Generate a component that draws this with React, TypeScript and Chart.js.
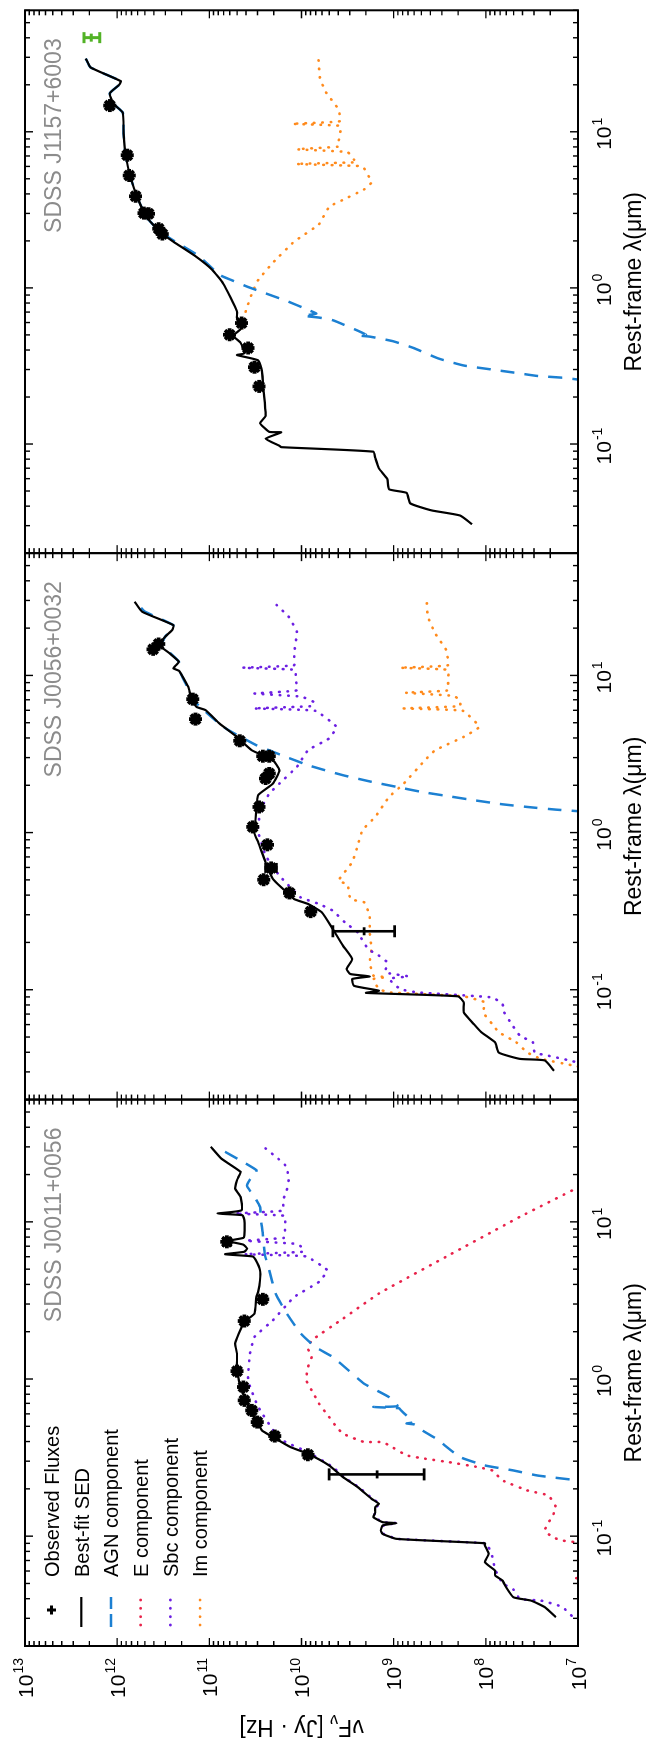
import React, { useEffect, useRef } from "react";
import { Chart, registerables } from "chart.js";

Chart.register(...registerables);

// ---------------- data: [log10 λ (μm), log10 νFν (Jy·Hz)] ----------------
const P1_SED = [[1.478,10.985],[1.403,10.87],[1.318,10.66],[1.29,10.68],[1.265,10.70],[1.212,10.72],[1.159,10.66],[1.074,10.65],[1.053,10.91],[1.042,10.64],[1.011,10.62],[0.915,10.62],[0.898,10.63],[0.878,10.80],[0.855,10.63],[0.83,10.59],[0.81,10.62],[0.794,10.83],[0.78,10.53],[0.76,10.50],[0.692,10.45],[0.628,10.45],[0.554,10.47],[0.522,10.49],[0.416,10.51],[0.363,10.62],[0.289,10.68],[0.225,10.72],[0.161,10.70],[0.076,10.70],[-0.009,10.68],[-0.072,10.65],[-0.157,10.58],[-0.242,10.51],[-0.327,10.43],[-0.369,10.31],[-0.433,10.12],[-0.476,9.93],[-0.55,9.70],[-0.624,9.55],[-0.688,9.39],[-0.762,9.24],[-0.794,9.16],[-0.815,9.20],[-0.85,9.20],[-0.879,9.22],[-0.911,9.12],[-0.917,8.97],[-0.932,9.12],[-0.964,9.14],[-0.985,9.12],[-1.017,8.97],[-1.045,8.01],[-1.059,8.01],[-1.113,7.97],[-1.166,8.01],[-1.219,7.90],[-1.25,7.90],[-1.282,7.82],[-1.325,7.78],[-1.389,7.70],[-1.41,7.51],[-1.452,7.36],[-1.516,7.24]];
const P1_AGN = [[1.446,10.83],[1.40,10.69],[1.329,10.49],[1.30,10.50],[1.276,10.55],[1.25,10.58],[1.227,10.59],[1.19,10.55],[1.159,10.51],[1.096,10.45],[1.011,10.44],[0.926,10.42],[0.798,10.40],[0.692,10.35],[0.544,10.28],[0.416,10.16],[0.289,10.007],[0.204,9.85],[0.14,9.66],[0.055,9.49],[-0.03,9.32],[-0.115,9.05],[-0.172,8.96],[-0.178,9.22],[-0.186,8.94],[-0.2,8.92],[-0.275,8.79],[-0.283,8.86],[-0.29,8.77],[-0.33,8.68],[-0.39,8.51],[-0.43,8.43],[-0.497,8.28],[-0.55,8.01],[-0.582,7.70],[-0.614,7.44],[-0.645,7.0],[-0.66,6.8]];
const P1_E = [[1.30,6.75],[1.219,7.0],[1.032,7.63],[0.788,8.40],[0.544,9.16],[0.384,9.55],[0.246,9.89],[0.193,9.93],[0.14,9.89],[0.076,9.93],[-0.008,9.95],[-0.072,9.89],[-0.157,9.81],[-0.242,9.70],[-0.306,9.62],[-0.348,9.55],[-0.385,9.40],[-0.401,9.32],[-0.401,9.12],[-0.422,9.05],[-0.486,8.86],[-0.507,8.66],[-0.529,8.40],[-0.56,8.09],[-0.582,7.93],[-0.645,7.82],[-0.709,7.55],[-0.741,7.32],[-0.815,7.24],[-0.879,7.28],[-0.92,7.33],[-0.964,7.36],[-1.006,7.28],[-1.028,7.17],[-1.04,7.0],[-1.06,6.8],[-1.24,6.8],[-1.265,7.03],[-1.29,6.8]];
const P1_SBC = [[1.467,10.39],[1.40,10.25],[1.35,10.16],[1.265,10.14],[1.20,10.16],[1.138,10.20],[1.072,10.20],[1.053,10.72],[1.038,10.18],[0.97,10.18],[0.915,10.18],[0.898,10.19],[0.88,10.60],[0.86,10.05],[0.84,10.0],[0.81,9.98],[0.794,10.62],[0.78,9.95],[0.692,9.72],[0.618,9.81],[0.522,10.08],[0.374,10.31],[0.268,10.51],[0.161,10.56],[0.013,10.58],[-0.03,10.57],[-0.178,10.47],[-0.38,10.24],[-0.465,9.93],[-0.56,9.66],[-0.624,9.54],[-0.688,9.38],[-0.762,9.23],[-0.794,9.15],[-0.815,9.19],[-0.879,9.21],[-0.911,9.11],[-0.917,8.96],[-0.932,9.11],[-0.985,9.11],[-1.017,8.96],[-1.045,8.00],[-1.07,7.97],[-1.13,7.93],[-1.21,7.90],[-1.30,7.82],[-1.34,7.70],[-1.40,7.63],[-1.41,7.40],[-1.45,7.17],[-1.516,7.05],[-1.55,6.9]];
const P1_OBS = [[0.873,10.81],[0.507,10.42],[0.369,10.62],[0.05,10.70],[-0.051,10.63],[-0.136,10.62],[-0.2,10.54],[-0.274,10.48],[-0.363,10.29],[-0.482,9.93]];
const P1_BARS = [[0.873,10.81,10.77,10.85]];
const P1_CROSS = [[-0.607,9.18,8.67,9.70]];

const P2_SED = [[1.469,11.81],[1.406,11.73],[1.32,11.39],[1.29,11.40],[1.246,11.48],[1.193,11.54],[1.14,11.43],[1.087,11.33],[1.06,11.37],[1.045,11.39],[1.03,11.33],[1.013,11.31],[0.928,11.23],[0.864,11.20],[0.80,11.14],[0.779,11.04],[0.694,10.89],[0.609,10.70],[0.524,10.54],[0.461,10.31],[0.397,10.24],[0.312,10.31],[0.238,10.47],[0.142,10.49],[-0.006,10.51],[-0.062,10.47],[-0.189,10.39],[-0.295,10.31],[-0.359,10.20],[-0.423,10.08],[-0.454,9.93],[-0.507,9.78],[-0.614,9.66],[-0.72,9.55],[-0.805,9.45],[-0.868,9.51],[-0.90,9.47],[-0.915,9.26],[-0.932,9.45],[-0.975,9.43],[-1.006,9.16],[-1.02,9.30],[-1.042,8.30],[-1.08,8.24],[-1.144,8.24],[-1.219,8.13],[-1.27,8.05],[-1.335,7.90],[-1.40,7.86],[-1.44,7.63],[-1.45,7.36],[-1.516,7.26]];
const P2_AGN = [[1.43,11.74],[1.406,11.70],[1.32,11.39],[1.29,11.41],[1.246,11.48],[1.193,11.52],[1.14,11.42],[1.087,11.33],[1.013,11.31],[0.928,11.24],[0.864,11.21],[0.79,11.08],[0.673,10.85],[0.609,10.66],[0.556,10.49],[0.514,10.31],[0.429,9.93],[0.365,9.55],[0.323,9.24],[0.291,8.97],[0.259,8.70],[0.231,8.40],[0.206,8.13],[0.18,7.82],[0.163,7.55],[0.146,7.24],[0.136,7.0],[0.12,6.8]];
const P2_SBC = [[1.448,10.27],[1.374,10.14],[1.278,10.05],[1.14,10.08],[1.065,10.08],[1.049,10.64],[1.035,10.07],[0.97,10.06],[0.905,10.05],[0.885,10.51],[0.865,10.0],[0.832,9.87],[0.805,9.88],[0.79,10.52],[0.775,9.85],[0.673,9.62],[0.599,9.70],[0.524,9.93],[0.418,10.05],[0.312,10.24],[0.248,10.35],[0.163,10.43],[0.057,10.47],[0.002,10.47],[-0.147,10.39],[-0.274,10.24],[-0.412,10.01],[-0.454,9.81],[-0.497,9.66],[-0.571,9.53],[-0.635,9.39],[-0.741,9.28],[-0.783,9.16],[-0.826,9.07],[-0.89,9.09],[-0.915,8.84],[-0.93,9.05],[-0.996,8.93],[-1.017,8.74],[-1.049,7.93],[-1.09,7.82],[-1.144,7.80],[-1.219,7.72],[-1.293,7.63],[-1.335,7.49],[-1.40,7.47],[-1.42,7.32],[-1.45,7.09],[-1.48,6.9]];
const P2_IM = [[1.459,8.64],[1.374,8.63],[1.268,8.55],[1.161,8.43],[1.065,8.41],[1.049,8.93],[1.035,8.41],[0.96,8.41],[0.905,8.41],[0.89,8.87],[0.87,8.35],[0.843,8.28],[0.805,8.28],[0.79,8.89],[0.775,8.25],[0.673,8.07],[0.609,8.24],[0.524,8.55],[0.461,8.66],[0.312,8.89],[0.227,9.05],[0.10,9.20],[0.015,9.34],[-0.083,9.39],[-0.189,9.45],[-0.306,9.60],[-0.33,9.50],[-0.423,9.47],[-0.444,9.32],[-0.529,9.26],[-0.635,9.26],[-0.741,9.24],[-0.826,9.26],[-0.91,9.22],[-0.92,9.08],[-0.932,9.22],[-0.996,9.16],[-1.017,9.05],[-1.042,8.24],[-1.08,8.01],[-1.144,8.03],[-1.219,7.93],[-1.27,7.86],[-1.335,7.67],[-1.40,7.55],[-1.44,7.40],[-1.48,7.07],[-1.50,6.9]];
const P2_OBS = [[1.166,11.61],[1.20,11.55],[0.849,11.18],[0.722,11.15],[0.584,10.67],[0.486,10.42],[0.486,10.35],[0.376,10.35],[0.344,10.39],[0.163,10.46],[0.036,10.53],[-0.078,10.37],[-0.225,10.33],[-0.30,10.41],[-0.384,10.13],[-0.503,9.90]];
const P2_BARS = [[-0.225,10.33,10.27,10.39]];
const P2_CROSS = [[-0.628,9.32,8.99,9.66]];

const P3_SED = [[1.469,12.34],[1.413,12.29],[1.324,11.96],[1.30,11.98],[1.246,12.08],[1.179,12.04],[1.123,11.94],[0.989,11.93],[0.855,11.91],[0.698,11.85],[0.564,11.77],[0.453,11.68],[0.363,11.54],[0.296,11.39],[0.207,11.16],[0.117,10.97],[0.028,10.85],[-0.061,10.77],[-0.151,10.70],[-0.196,10.70],[-0.23,10.66],[-0.263,10.66],[-0.307,10.74],[-0.352,10.66],[-0.419,10.62],[-0.43,10.70],[-0.464,10.47],[-0.531,10.43],[-0.665,10.41],[-0.821,10.39],[-0.866,10.45],[-0.922,10.35],[-0.925,10.22],[-0.966,10.39],[-1.011,10.24],[-1.02,10.22],[-1.049,9.22],[-1.089,9.20],[-1.156,9.16],[-1.223,9.07],[-1.29,9.05],[-1.313,8.86],[-1.38,8.82],[-1.425,8.59],[-1.458,8.28],[-1.514,8.15]];
const P3_AGN = [[1.469,12.34],[1.413,12.29],[1.324,11.96],[1.30,11.98],[1.246,12.08],[1.179,12.04],[1.123,11.94],[0.989,11.93],[0.855,11.91],[0.698,11.85],[0.564,11.77],[0.453,11.68],[0.363,11.54],[0.30,11.38],[0.207,11.12],[0.084,10.89],[0.05,10.76],[0.006,10.58],[-0.084,10.16],[-0.14,9.93],[-0.165,9.84],[-0.178,9.98],[-0.19,9.81],[-0.207,9.66],[-0.274,9.39],[-0.30,9.30],[-0.305,9.38],[-0.312,9.26],[-0.341,9.01],[-0.386,8.78],[-0.453,8.51],[-0.497,8.24],[-0.52,7.97],[-0.542,7.70],[-0.564,7.44],[-0.575,7.17],[-0.587,7.0],[-0.60,6.8]];
const P3_IM = [[1.458,9.815],[1.346,9.80],[1.257,9.74],[1.145,9.60],[1.068,9.58],[1.051,10.10],[1.038,9.58],[0.989,9.58],[0.933,9.60],[0.905,9.60],[0.888,10.05],[0.87,9.50],[0.821,9.43],[0.805,9.40],[0.794,10.06],[0.78,9.35],[0.765,9.32],[0.676,9.24],[0.631,9.32],[0.564,9.55],[0.52,9.70],[0.408,9.81],[0.296,10.08],[0.162,10.31],[0.05,10.47],[-0.039,10.54],[-0.14,10.60],[-0.229,10.64],[-0.26,10.65]];
const P3_OBS = [[1.168,12.08],[0.85,11.89],[0.72,11.87],[0.587,11.80],[0.479,11.71],[0.475,11.66],[0.379,11.55],[0.345,11.51],[-0.225,10.65],[-0.30,10.78],[-0.385,10.58],[-0.508,10.51],[-0.631,10.46]];
const P3_EXTRA = [[1.603,12.28,12.19,12.36]];

const PANEL_NAMES = ["SDSS J0011+0056", "SDSS J0056+0032", "SDSS J1157+6003"];
const LEGEND_LABELS = ["Observed Fluxes", "Best-fit SED", "AGN component", "E component", "Sbc component", "Im component"];
const WAVE_TICK_VALUES = [0.1, 1, 10];
const WAVE_TICK_EXPONENTS = ["-1", "0", "1"];
const FLUX_TICK_VALUES = [1e13, 1e12, 1e11, 1e10, 1e9, 1e8, 1e7];
const FLUX_TICK_EXPONENTS = ["13", "12", "11", "10", "9", "8", "7"];
const X_TITLE = "Rest-frame λ(μm)";

// ---------------- layout / style ----------------
const FIG_W = 1742;
const FIG_H = 646;
const PANEL_X0 = 96;
const PANEL_W = 546.43;
const PLOT_TOP = 25;
const PLOT_BOTTOM = 578;
const LAM_MIN = 0.02, LAM_MAX = 60, FLUX_MIN = 1e7, FLUX_MAX = 1e13;
const FONT = '"Liberation Sans", Arial, Helvetica, sans-serif';
const C_AGN = "#1c80d2";
const C_E = "#e8224a";
const C_SBC = "#6c1fe2";
const C_IM = "#ff8a1c";
const C_EXTRA = "#52b226";
const C_NAME = "#8c8c8c";

const PANELS = [
  { name: PANEL_NAMES[0], sed: P1_SED, agn: P1_AGN, e: P1_E, sbc: P1_SBC, im: null, obs: P1_OBS, bars: P1_BARS, cross: P1_CROSS, extra: [] },
  { name: PANEL_NAMES[1], sed: P2_SED, agn: P2_AGN, e: null, sbc: P2_SBC, im: P2_IM, obs: P2_OBS, bars: P2_BARS, cross: P2_CROSS, extra: [] },
  { name: PANEL_NAMES[2], sed: P3_SED, agn: P3_AGN, e: null, sbc: null, im: P3_IM, obs: P3_OBS, bars: [], cross: [], extra: P3_EXTRA },
];

function toPoints(pairs: number[][]) {
  return pairs.map((p) => ({ x: Math.pow(10, p[0]), y: Math.pow(10, p[1]) }));
}

function lineSet(label: string, pairs: number[][], color: string, width: number, dash: number[], order: number, round: boolean, tension: number) {
  return {
    label,
    data: toPoints(pairs),
    showLine: true,
    borderColor: color,
    backgroundColor: color,
    borderWidth: width,
    borderDash: dash,
    borderCapStyle: round ? "round" : "butt",
    borderJoinStyle: "round",
    pointRadius: 0,
    tension,
    fill: false,
    clip: 0,
    order,
  };
}

function drawPower(ctx: CanvasRenderingContext2D, exp: string, anchorX: number, baseline: number, align: string) {
  ctx.font = `21px ${FONT}`;
  const w1 = ctx.measureText("10").width;
  ctx.font = `14px ${FONT}`;
  const w2 = ctx.measureText(exp).width;
  const gap = 1;
  const total = w1 + gap + w2;
  const x0 = align === "center" ? anchorX - total / 2 : anchorX - total;
  ctx.textAlign = "left";
  ctx.textBaseline = "alphabetic";
  ctx.font = `21px ${FONT}`;
  ctx.fillText("10", x0, baseline);
  ctx.font = `14px ${FONT}`;
  ctx.fillText(exp, x0 + w1 + gap, baseline - 9.5);
}

function makePlugin(index: number, panel: any) {
  return {
    id: "panelDeco" + index,
    afterDatasetsDraw(chart: any) {
      const { ctx, scales } = chart;
      const xs = scales.x, ys = scales.y;
      ctx.save();
      const drawBar = (b: number[], color: string, cap: number, plus: boolean, lw: number) => {
        const px = xs.getPixelForValue(Math.pow(10, b[0]));
        const py = ys.getPixelForValue(Math.pow(10, b[1]));
        const lo = ys.getPixelForValue(Math.pow(10, b[2]));
        const hi = ys.getPixelForValue(Math.pow(10, b[3]));
        ctx.strokeStyle = color;
        ctx.lineWidth = lw;
        ctx.beginPath();
        ctx.moveTo(px, lo); ctx.lineTo(px, hi);
        ctx.moveTo(px - cap, lo); ctx.lineTo(px + cap, lo);
        ctx.moveTo(px - cap, hi); ctx.lineTo(px + cap, hi);
        if (plus) { ctx.moveTo(px - 4, py); ctx.lineTo(px + 4, py); }
        ctx.stroke();
      };
      panel.bars.forEach((b: number[]) => drawBar(b, "#000", 5, false, 2.5));
      panel.cross.forEach((b: number[]) => drawBar(b, "#000", 6, true, 2.6));
      panel.extra.forEach((b: number[]) => drawBar(b, C_EXTRA, 5.5, true, 3));
      ctx.restore();
    },
    afterDraw(chart: any) {
      const { ctx, chartArea: a, scales } = chart;
      const xs = scales.x, ys = scales.y;
      ctx.save();
      // ticks
      ctx.strokeStyle = "#000";
      ctx.lineWidth = 1.4;
      ctx.beginPath();
      for (let d = -2; d <= 1; d++) {
        for (let m = 1; m <= 9; m++) {
          const v = m * Math.pow(10, d);
          if (v < LAM_MIN * 0.999 || v > LAM_MAX * 1.001) continue;
          const px = xs.getPixelForValue(v);
          const len = m === 1 ? 8 : 5;
          ctx.moveTo(px, a.bottom); ctx.lineTo(px, a.bottom - len);
          ctx.moveTo(px, a.top); ctx.lineTo(px, a.top + len);
        }
      }
      for (let d = 7; d <= 13; d++) {
        for (let m = 1; m <= 9; m++) {
          const v = m * Math.pow(10, d);
          if (v > FLUX_MAX * 1.001) continue;
          const py = ys.getPixelForValue(v);
          const len = m === 1 ? 8 : 5;
          ctx.moveTo(a.left, py); ctx.lineTo(a.left + len, py);
          ctx.moveTo(a.right, py); ctx.lineTo(a.right - len, py);
        }
      }
      ctx.stroke();
      // frame
      ctx.lineWidth = 2;
      ctx.strokeRect(a.left, a.top, a.right - a.left, a.bottom - a.top);
      // wavelength tick labels
      ctx.fillStyle = "#000";
      WAVE_TICK_VALUES.forEach((v, k) => {
        drawPower(ctx, WAVE_TICK_EXPONENTS[k], xs.getPixelForValue(v) - 2, 611, "center");
      });
      // x title
      ctx.font = `23px ${FONT}`;
      ctx.textAlign = "center";
      ctx.textBaseline = "alphabetic";
      ctx.fillText(X_TITLE, (a.left + a.right) / 2, 641);
      // panel name
      ctx.fillStyle = C_NAME;
      ctx.textAlign = "right";
      ctx.fillText(panel.name, a.right - 28, 61);

      if (index === 0) {
        ctx.fillStyle = "#000";
        FLUX_TICK_VALUES.forEach((v, k) => {
          drawPower(ctx, FLUX_TICK_EXPONENTS[k], 84, ys.getPixelForValue(v) + 7.5, "right");
        });
        // y title
        ctx.save();
        ctx.translate(22, (a.top + a.bottom) / 2);
        ctx.rotate(-Math.PI / 2);
        const parts: [string, number, number][] = [["νF", 23, 0], ["ν", 16, 5], [" [Jy · Hz]", 23, 0]];
        let total = 0;
        parts.forEach((p) => { ctx.font = `${p[1]}px ${FONT}`; total += ctx.measureText(p[0]).width; });
        let cx = -total / 2;
        ctx.textAlign = "left";
        ctx.textBaseline = "alphabetic";
        parts.forEach((p) => {
          ctx.font = `${p[1]}px ${FONT}`;
          ctx.fillText(p[0], cx, p[2]);
          cx += ctx.measureText(p[0]).width;
        });
        ctx.restore();
        // legend
        const y0 = 51.6, dy = 29.7;
        LEGEND_LABELS.forEach((lab, k) => {
          const yy = y0 + dy * k;
          ctx.fillStyle = "#000";
          ctx.font = `20px ${FONT}`;
          ctx.textAlign = "left";
          ctx.textBaseline = "alphabetic";
          ctx.fillText(lab, 165, yy + 7.3);
          if (k === 0) {
            ctx.strokeStyle = "#000"; ctx.lineWidth = 3;
            ctx.beginPath();
            ctx.moveTo(127.5, yy); ctx.lineTo(136.5, yy);
            ctx.moveTo(132, yy - 4.5); ctx.lineTo(132, yy + 4.5);
            ctx.stroke();
          } else if (k === 1) {
            ctx.strokeStyle = "#000"; ctx.lineWidth = 2.2;
            ctx.beginPath(); ctx.moveTo(115, yy); ctx.lineTo(145, yy); ctx.stroke();
          } else if (k === 2) {
            ctx.strokeStyle = C_AGN; ctx.lineWidth = 2.5;
            ctx.beginPath();
            ctx.moveTo(115, yy); ctx.lineTo(128, yy);
            ctx.moveTo(133, yy); ctx.lineTo(145, yy);
            ctx.stroke();
          } else {
            ctx.fillStyle = k === 3 ? C_E : k === 4 ? C_SBC : C_IM;
            [117, 125.3, 133.7, 142].forEach((dx) => {
              ctx.beginPath(); ctx.arc(dx, yy, 1.4, 0, Math.PI * 2); ctx.fill();
            });
          }
        });
      }
      ctx.restore();
    },
  };
}

function createPanel(canvas: HTMLCanvasElement, panel: any, index: number) {
  const left = PANEL_X0 + PANEL_W * index;
  const right = left + PANEL_W;
  const datasets: any[] = [];
  datasets.push({
    label: "Observed Fluxes",
    data: toPoints(panel.obs),
    showLine: false,
    pointStyle: "star",
    pointRadius: 6.5,
    pointBorderWidth: 3.8,
    pointBorderColor: "#000",
    pointBackgroundColor: "#000",
    clip: 0,
    order: 0,
  });
  datasets.push(lineSet("Best-fit SED", panel.sed, "#000", 2.2, [], 1, false, 0.15));
  if (panel.agn) datasets.push(lineSet("AGN component", panel.agn, C_AGN, 2.5, [14, 10], 2, false, 0.15));
  if (panel.e) datasets.push(lineSet("E component", panel.e, C_E, 2.6, [0.5, 7.9], 3, true, 0.1));
  if (panel.sbc) datasets.push(lineSet("Sbc component", panel.sbc, C_SBC, 2.6, [0.5, 7.9], 4, true, 0.1));
  if (panel.im) datasets.push(lineSet("Im component", panel.im, C_IM, 2.6, [0.5, 7.9], 5, true, 0.1));

  return new Chart(canvas, {
    type: "scatter",
    data: { datasets },
    options: {
      responsive: false,
      animation: false,
      devicePixelRatio: 1,
      events: [],
      layout: { padding: { left, right: FIG_W - right, top: PLOT_TOP, bottom: FIG_H - PLOT_BOTTOM } },
      scales: {
        x: { type: "logarithmic", min: LAM_MIN, max: LAM_MAX, display: false },
        y: { type: "logarithmic", min: FLUX_MIN, max: FLUX_MAX, display: false },
      },
      plugins: { legend: { display: false }, tooltip: { enabled: false } },
    } as any,
    plugins: [makePlugin(index, panel)],
  } as any);
}

export default function App() {
  const c0 = useRef<HTMLCanvasElement>(null);
  const c1 = useRef<HTMLCanvasElement>(null);
  const c2 = useRef<HTMLCanvasElement>(null);

  useEffect(() => {
    const canvases = [c0.current, c1.current, c2.current];
    const charts = PANELS.map((p, i) => createPanel(canvases[i] as HTMLCanvasElement, p, i));
    return () => charts.forEach((c) => c.destroy());
  }, []);

  const canvasStyle: React.CSSProperties = { position: "absolute", left: 0, top: 0, width: FIG_W, height: FIG_H };
  return (
    <div style={{ position: "absolute", left: 0, top: 0, width: 646, height: 1742, overflow: "hidden", background: "#fff" }}>
      <div
        style={{
          position: "absolute",
          left: 0,
          top: 0,
          width: FIG_W,
          height: FIG_H,
          transformOrigin: "0 0",
          transform: `translateY(${FIG_W}px) rotate(-90deg)`,
        }}
      >
        <canvas ref={c0} width={FIG_W} height={FIG_H} style={canvasStyle} />
        <canvas ref={c1} width={FIG_W} height={FIG_H} style={canvasStyle} />
        <canvas ref={c2} width={FIG_W} height={FIG_H} style={canvasStyle} />
      </div>
    </div>
  );
}
